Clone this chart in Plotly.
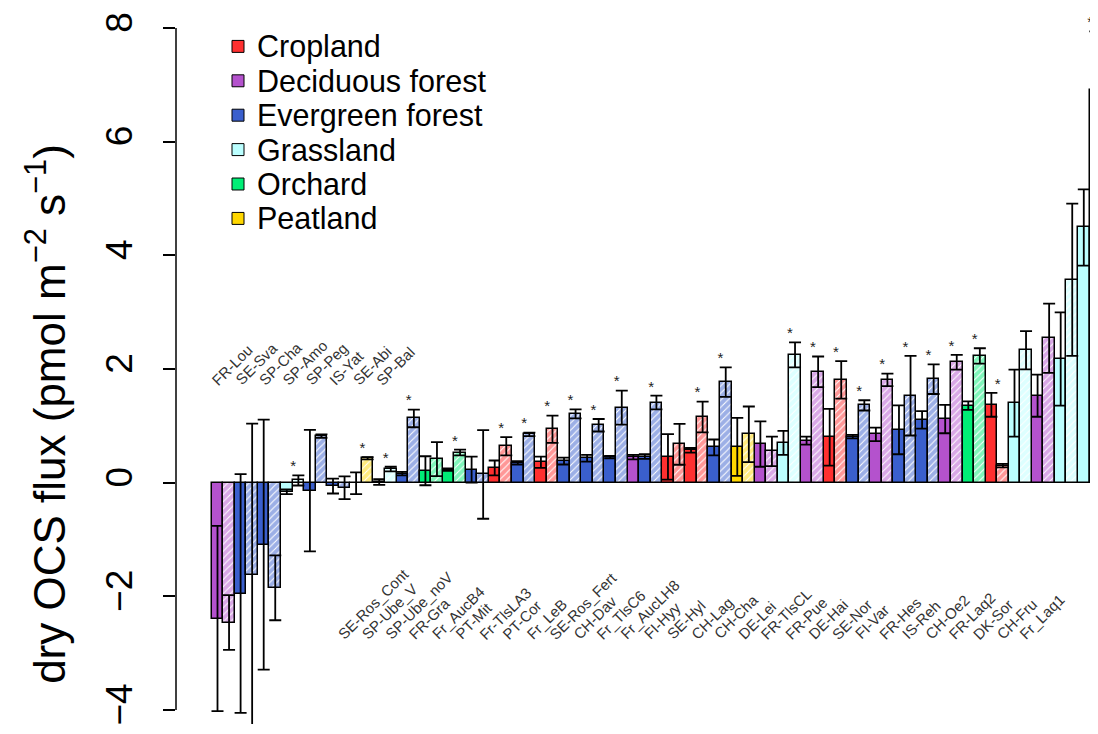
import plotly.graph_objects as go

# land cover classes and their colours
classes = ["Cropland", "Deciduous forest", "Evergreen forest", "Grassland", "Orchard", "Peatland"]
class_colors = ["#FF3030", "#B452CD", "#3A5FCD", "#BBFFFF", "#00EE76", "#FFD700"]

# one entry per site, sorted by the solid-bar flux
site_class = [
    "Deciduous forest", "Evergreen forest", "Evergreen forest", "Grassland", "Evergreen forest",
    "Evergreen forest", "Peatland", "Grassland", "Evergreen forest", "Orchard",
    "Orchard", "Evergreen forest", "Cropland", "Evergreen forest", "Cropland",
    "Evergreen forest", "Evergreen forest", "Evergreen forest", "Deciduous forest", "Evergreen forest",
    "Cropland", "Cropland", "Evergreen forest", "Peatland", "Deciduous forest",
    "Grassland", "Deciduous forest", "Cropland", "Evergreen forest", "Deciduous forest",
    "Evergreen forest", "Evergreen forest", "Deciduous forest", "Orchard", "Cropland",
    "Grassland", "Deciduous forest", "Grassland", "Grassland",
]
solid_flux = [
    -2.39, -1.95, -1.09, -0.16, -0.14, -0.06, -0.01, 0.01, 0.16, 0.21,
    0.23, 0.23, 0.26, 0.35, 0.36, 0.38, 0.43, 0.45, 0.45, 0.46,
    0.455, 0.57, 0.62, 0.63, 0.68, 0.70, 0.74, 0.80, 0.81, 0.85,
    0.93, 1.105, 1.12, 1.355, 1.37, 1.40, 1.53, 2.175, 4.49,
]
solid_err = [
    1.63, 2.10, 2.20, 0.04, 1.07, 0.13, 0.19, 0.05, 0.03, 0.255,
    0.02, 0.23, 0.13, 0.03, 0.10, 0.06, 0.06, 0.02, 0.04, 0.04,
    0.40, 0.04, 0.14, 0.51, 0.40, 0.21, 0.07, 0.50, 0.03, 0.12,
    0.43, 0.155, 0.25, 0.075, 0.21, 0.59, 0.37, 0.82, 0.67,
]
hatch_flux = [
    -2.46, -1.63, -1.85, 0.04, 0.82, -0.09, 0.43, 0.24, 1.13, 0.415,
    0.53, 0.145, 0.64, 0.85, 0.94, 1.21, 1.01, 1.32, None, 1.41,
    0.675, 1.155, 1.77, 0.85, 0.55, 2.25, 1.95, 1.81, 1.36, 1.81,
    1.53, 1.82, 2.12, 2.23, 0.30, 2.33, 2.54, 3.57, 6.90,
]
hatch_err = [
    0.48, 2.67, 0.57, 0.09, 0.03, 0.20, 0.02, 0.04, 0.155, 0.30,
    0.05, 0.78, 0.16, 0.03, 0.24, 0.08, 0.11, 0.30, None, 0.12,
    0.36, 0.27, 0.26, 0.49, 0.26, 0.22, 0.27, 0.33, 0.09, 0.11,
    0.70, 0.26, 0.13, 0.135, 0.03, 0.335, 0.61, 1.34, 1.04,
]
signif = [
    False, False, False, True, False, False, True, True, True, False,
    True, False, True, True, True, True, True, True, False, True,
    False, True, True, False, False, True, True, True, True, True,
    True, True, True, True, True, False, False, False, True,
]

upper_labels = ["FR-Lou", "SE-Sva", "SP-Cha", "SP-Amo", "SP-Peg", "IS-Yat", "SE-Abi", "SP-Bal"]
lower_labels = [
    "SE-Ros_Cont", "SP-Ube_V", "SP-Ube_noV", "FR-Gra", "Fr_AucB4", "PT-Mit", "Fr-TlsLA3",
    "PT-Cor", "Fr_LeB", "SE-Ros_Fert", "CH-Dav", "Fr_TlsC6", "Fr_AucLH8", "FI-Hyy",
    "SE-Hyl", "CH-Lag", "CH-Cha", "DE-Lei", "FR-TlsCL", "FR-Pue", "DE-Hai", "SE-Nor",
    "FI-Var", "FR-Hes", "IS-Reh", "CH-Oe2", "FR-Laq2", "DK-Sor", "CH-Fru", "Fr_Laq1",
]

# the page puts the figure 8px in from the window corner (body margin);
# keep the figure small enough that no scrollbar appears
OFF = 8
W, H = 1098 - OFF, 734 - 2 * OFF
LEFT = 176 - OFF


def px_x(p):
    return (p - OFF - LEFT) / (W - LEFT)


def px_y(p):
    return 1 - (p - OFF) / H


# bar positions: solid bar then its hatched partner (if any)
solid_x, hatch_x = [], []
pos = 0
for h in hatch_flux:
    solid_x.append(pos)
    pos += 1
    if h is None:
        hatch_x.append(None)
    else:
        hatch_x.append(pos)
        pos += 1

fig = go.Figure()
for cls, col in zip(classes, class_colors):
    idx = [i for i, c in enumerate(site_class) if c == cls]
    fig.add_trace(go.Bar(
        x=[solid_x[i] for i in idx], y=[solid_flux[i] for i in idx], width=1,
        marker=dict(color=col, line=dict(color="black", width=1.5)),
        error_y=dict(type="data", array=[solid_err[i] for i in idx],
                     color="black", thickness=1.8, width=6),
        showlegend=False, hoverinfo="skip"))
    hidx = [i for i in idx if hatch_flux[i] is not None]
    fig.add_trace(go.Bar(
        x=[hatch_x[i] for i in hidx], y=[hatch_flux[i] for i in hidx], width=1,
        marker=dict(color="white", line=dict(color="black", width=1.5),
                    pattern=dict(shape="/", fgcolor=col, bgcolor="white",
                                 size=5, solidity=0.8)),
        error_y=dict(type="data", array=[hatch_err[i] for i in hidx],
                     color="black", thickness=1.8, width=6),
        showlegend=False, hoverinfo="skip"))

# significance stars above each pair
star_x, star_y = [], []
for i, s in enumerate(signif):
    if not s:
        continue
    top = solid_flux[i] + solid_err[i]
    if hatch_flux[i] is not None:
        top = max(top, hatch_flux[i] + hatch_err[i])
    star_x.append(hatch_x[i] - 0.45)
    star_y.append(top + 0.14)
fig.add_trace(go.Scatter(x=star_x, y=star_y, mode="text", text=["*"] * len(star_x),
                         textfont=dict(size=15, color="#222", family="Liberation Sans"),
                         showlegend=False, hoverinfo="skip", cliponaxis=False))

annotations = []
for k, lab in enumerate(upper_labels):
    annotations.append(dict(x=-1.0 + 2.035 * k, y=1.61, text=lab, showarrow=False,
                            xanchor="left", yanchor="bottom", textangle=-45,
                            font=dict(size=15, color="#333", family="Liberation Sans")))
for k, lab in enumerate(lower_labels):
    annotations.append(dict(x=9.9 + 2.035 * k, y=-2.86, text=lab, showarrow=False,
                            xanchor="left", yanchor="bottom", textangle=-45,
                            font=dict(size=15, color="#333", family="Liberation Sans")))

# legend drawn by hand to match the original layout
shapes = []
for k, (cls, col) in enumerate(zip(classes, class_colors)):
    cy = 46.5 + 34.5 * k
    shapes.append(dict(type="rect", xref="paper", yref="paper",
                       x0=px_x(232), x1=px_x(244), y0=px_y(cy + 6), y1=px_y(cy - 6),
                       fillcolor=col, line=dict(color="black", width=1)))
    annotations.append(dict(xref="paper", yref="paper", x=px_x(255), y=px_y(cy),
                            text=cls, showarrow=False, xanchor="left", yanchor="middle",
                            font=dict(size=30.5, color="black", family="Liberation Sans")))

# y axis line only spans the labelled range
shapes.append(dict(type="line", xref="paper", yref="y", x0=0, x1=0, y0=-4, y1=8,
                   line=dict(color="black", width=1.5)))

annotations.append(dict(xref="paper", yref="paper", x=px_x(46), y=px_y(415),
                        text="dry OCS flux (pmol m<sup>\u22122</sup> s<sup>\u22121</sup>)",
                        showarrow=False, textangle=-90, xanchor="center", yanchor="middle",
                        font=dict(size=44, color="black", family="Liberation Sans")))

tick_vals = [-4, -2, 0, 2, 4, 6, 8]
tick_text = [str(v).replace("-", "\u2212") for v in tick_vals]

fig.update_layout(
    width=W, height=H,
    margin=dict(l=LEFT, r=0, t=0, b=0),
    paper_bgcolor="white", plot_bgcolor="white",
    barmode="overlay", bargap=0,
    xaxis=dict(range=[-3.593, 76.23], visible=False),
    yaxis=dict(range=[(484 - 726) / 57, 8.351], tickvals=tick_vals, ticktext=tick_text,
               ticks="outside", ticklen=12, tickwidth=1.5, tickcolor="black",
               showline=False, showgrid=False, zeroline=False, tickangle=-90,
               tickfont=dict(size=37, color="black", family="Liberation Sans"),
               ticklabelstandoff=16, ticklabeloverflow="allow"),
    shapes=shapes, annotations=annotations,
    font=dict(family="Liberation Sans"),
)

fig.write_html("out.html")
